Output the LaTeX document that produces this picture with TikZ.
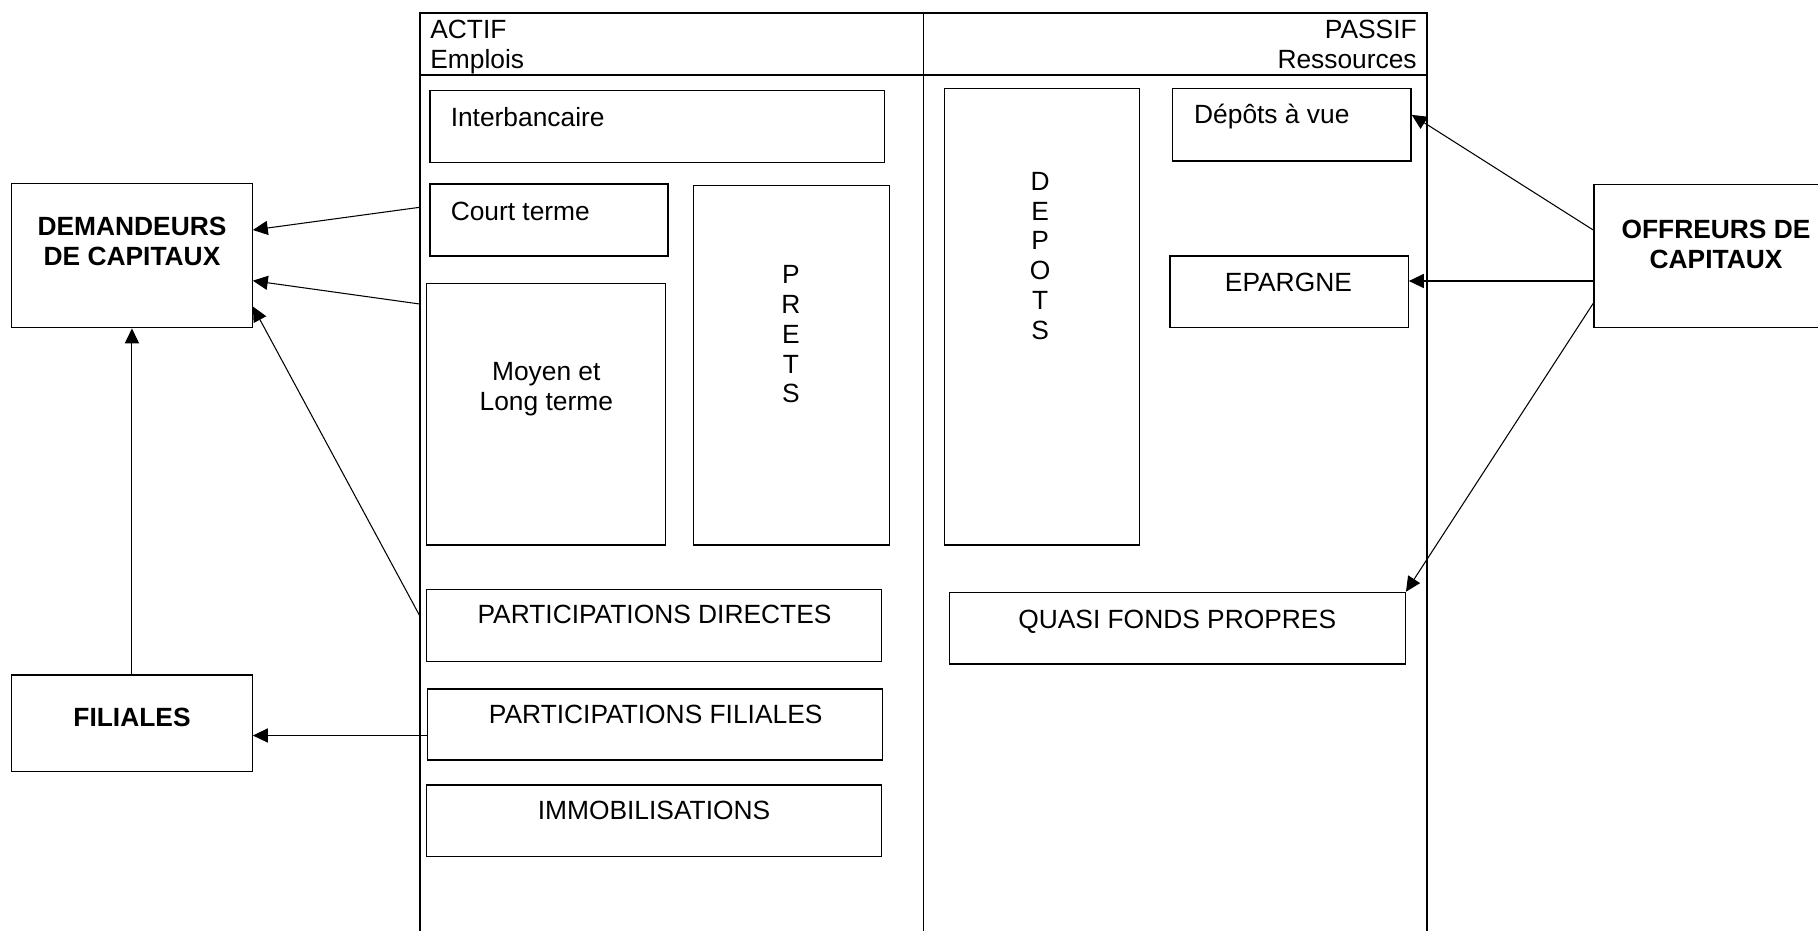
\documentclass[tikz,border=0pt]{standalone}
\usepackage{fontspec}
\setmainfont{Liberation Sans}
\usetikzlibrary{arrows.meta,positioning,fit,calc}
\newcommand{\bsfont}{\fontsize{15}{17}\selectfont}

\begin{document}
\begin{tikzpicture}[x=0.02cm, y=-0.02cm, font=\bsfont, >={Triangle[length=8.5pt,width=8pt]},
  frame/.style={draw, line width=1pt, inner sep=0pt},
  box/.style={draw, line width=0.75pt, inner sep=0pt},
  txt/.style={inner sep=0pt},
  bold/.style={inner sep=0pt, font=\bsfont\bfseries},
  arr/.style={->, line width=0.6pt}]
  \useasboundingbox (0,0) rectangle (1818,930);

  % Balance sheet frame: ACTIF | PASSIF
  \node[frame, fit={(419.7,12.7) (1427.3,945)}] (bilan) {};
  \draw[frame] ($(bilan.north west)+(0,63.3)$) -- ($(bilan.north east)+(0,63.3)$);
  \draw[frame] (bilan.north) -- (bilan.south);
  \node[txt, anchor=north west, align=left] (actif) at (430,20) {ACTIF\\Emplois};
  \node[txt, anchor=north east, align=right] (passif) at (1417,20) {PASSIF\\Ressources};

  % Actif: emplois
  \node[box, fit={(429.9,90.7) (884.5,162.7)}] (inter) {};
  \node[txt, anchor=base west] (tinter) at (450.4,126) {Interbancaire};
  \node[box, fit={(429.9,184) (668,256)}] (ct) {};
  \node[txt, anchor=base west] (tct) at (450.4,220) {Court terme};
  \node[box, fit={(426.4,283.3) (665.7,544.9)}] (mlt) {};
  \node[txt, anchor=north, align=center] (tmlt) at (546.3,362) {Moyen et\\Long terme};
  \node[box, fit={(693.3,185.7) (889.7,544.9)}] (prets) {};
  \node[txt, anchor=north, align=center] (tprets) at (791,265) {P\\R\\E\\T\\S};
  \node[box, fit={(426.4,589.3) (881.5,661.6)}] (pd) {};
  \node[txt, anchor=base] (tpd) at (654.5,623.9) {PARTICIPATIONS DIRECTES};
  \node[box, fit={(427.6,688.9) (882.7,760.1)}] (pf) {};
  \node[txt, anchor=base] (tpf) at (655.7,723.5) {PARTICIPATIONS FILIALES};
  \node[box, fit={(426.4,785) (881.5,856.2)}] (immo) {};
  \node[txt, anchor=base] (timmo) at (654,819.6) {IMMOBILISATIONS};

  % Passif: ressources
  \node[box, fit={(944.4,88.7) (1139.5,544.9)}] (dep) {};
  \node[txt, anchor=north, align=center] (tdep) at (1040.2,171.7) {D\\E\\P\\O\\T\\S};
  \node[box, fit={(1172.8,88.7) (1411.1,161)}] (dv) {};
  \node[txt, anchor=base west] (tdv) at (1193.8,123.3) {Dépôts à vue};
  \node[box, fit={(1169.9,256) (1408.2,327.7)}] (ep) {};
  \node[txt, anchor=base] (tep) at (1288.4,291.7) {EPARGNE};
  \node[box, fit={(949.6,592.4) (1405.3,664)}] (qfp) {};
  \node[txt, anchor=base] (tqfp) at (1177.2,628.2) {QUASI FONDS PROPRES};

  % Outside actors
  \node[box, fit={(11.7,183.3) (252.2,327.7)}] (dem) {};
  \node[bold, anchor=north, align=center] (tdem) at (132,216.7) {DEMANDEURS\\DE CAPITAUX};
  \node[box, fit={(11.7,674.9) (252.2,771.4)}] (fil) {};
  \node[bold, anchor=base] (tfil) at (132,726.6) {FILIALES};
  \node[box, fit={(1593.9,184.3) (1834.4,327.7)}] (off) {};
  \node[bold, anchor=north, align=center] (toff) at (1716,220) {OFFREURS DE\\CAPITAUX};

  % Flows to the borrowers
  \coordinate (ctout) at (419.7,207.3);
  \coordinate (mltout) at (419.7,304);
  \coordinate (pdout) at (419.7,615.7);
  \draw[arr] (ctout) -- ($(dem.east)+(0,-25.5)$);
  \draw[arr] (mltout) -- ($(dem.east)+(0,25.2)$);
  \draw[arr] (pdout) -- ($(dem.east)+(0,51)$);
  \coordinate (pfout) at ($(pf.west)+(0,11)$);
  \draw[arr] (pfout) -- (fil.east |- pfout);
  \draw[arr] (fil.north) -- (dem.south);

  % Flows from the lenders
  \coordinate (offep) at ($(off.west)+(0,25)$);
  \draw[arr] ($(off.west)+(0,-26)$) -- ($(dv.east)+(0,-10)$);
  \draw[arr] (offep) -- (ep.east |- offep);
  \draw[arr] ($(off.west)+(0,47.3)$) -- (qfp.north east);
\end{tikzpicture}
\end{document}
